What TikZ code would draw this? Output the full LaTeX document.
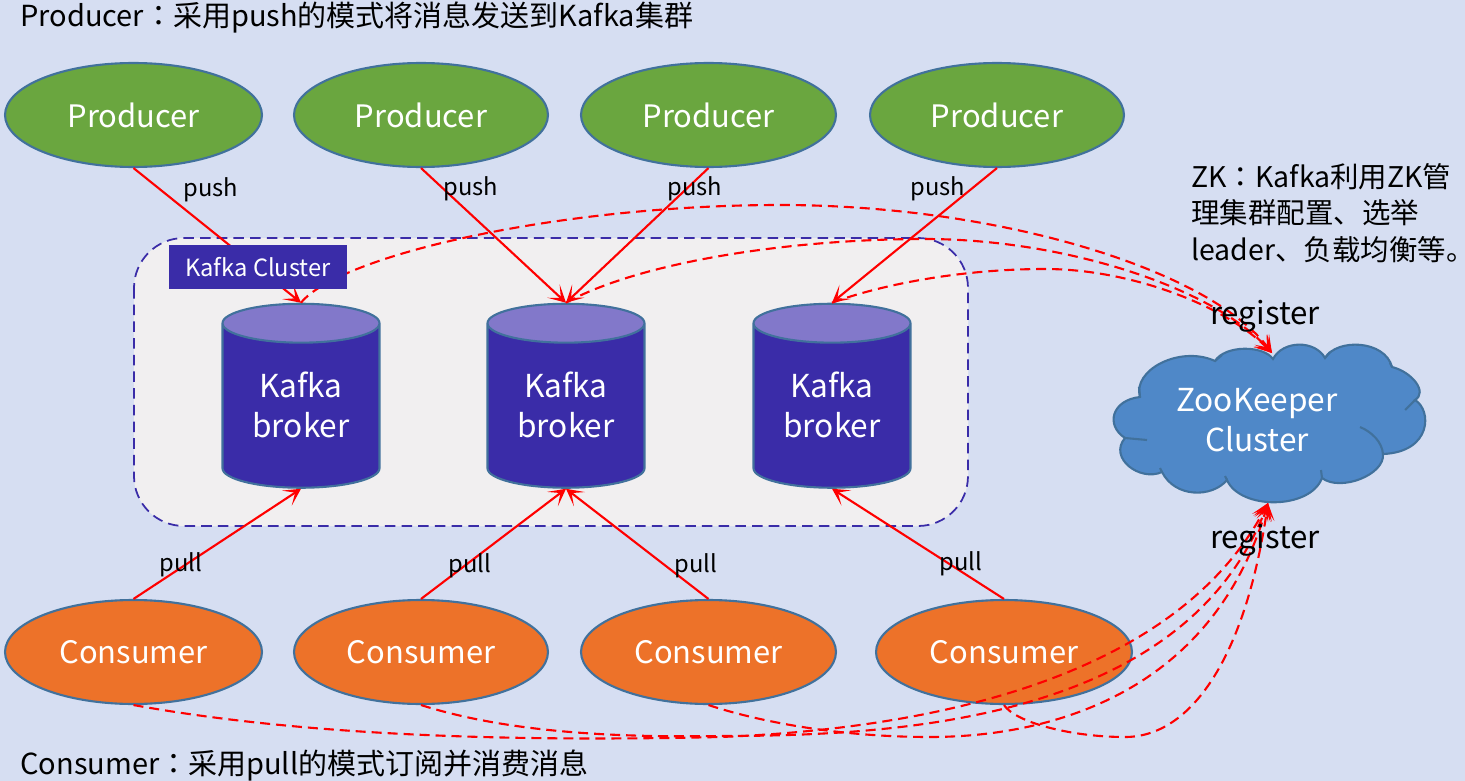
\documentclass[tikz,border=0pt]{standalone}
\usepackage{fontspec}
\setmainfont{Noto Sans CJK SC}
\newfontfamily\tcfont{Noto Sans CJK TC}
\usetikzlibrary{shapes.geometric,arrows.meta}
\def\zhcolon{{\tcfont ：}}
\definecolor{bgblue}{HTML}{D6DEF2}
\definecolor{kafkablue}{HTML}{3A2CA8}
\definecolor{kafkatop}{HTML}{8278CA}
\definecolor{edgeblue}{HTML}{41719C}
\definecolor{prodgreen}{HTML}{6AA63F}
\definecolor{consorange}{HTML}{ED7229}
\definecolor{zkblue}{HTML}{4F88C8}
\definecolor{clusterbg}{HTML}{F1EFF0}
\tikzset{
	client/.style={ellipse,draw=edgeblue,line width=1.2pt,minimum height=2.08cm,text=white,font=\fontsize{17.6}{20}\selectfont,inner sep=0pt},
	producer/.style={client,fill=prodgreen},
	consumer/.style={client,fill=consorange},
	broker/.style={cylinder,shape border rotate=90,aspect=0.4,draw=edgeblue,line width=1.2pt,cylinder uses custom fill,cylinder body fill=kafkablue,cylinder end fill=kafkatop,minimum width=3.14cm,minimum height=3.68cm,inner sep=0pt,align=center,font=\fontsize{18}{23}\selectfont},
	brokertext/.style={text=white,align=center,font=\fontsize{18}{23}\selectfont,yshift=0.02cm},
	flow/.style={draw=red,line width=1.2pt,-{Stealth[length=3.4mm,width=3.6mm,inset=2mm]}},
	reg/.style={flow,dash pattern=on 5.7pt off 3.4pt},
	tag/.style={font=\fontsize{13.5}{15}\selectfont},
	regtag/.style={font=\fontsize{17.8}{20}\selectfont},
	note/.style={font=\fontsize{16.5}{20.8}\selectfont,anchor=west,align=left,inner sep=0pt},
}
\begin{document}
\begin{tikzpicture}[x=0.02cm,y=-0.02cm]
	\useasboundingbox (0,0) rectangle (1465,781);
	\fill[bgblue] (0,0) rectangle (1465,781);
	%%%%% cluster %%%%%
	\draw[kafkablue,fill=clusterbg,line width=1pt,dash pattern=on 6pt off 3.5pt,rounded corners=1cm] (134,238) rectangle (968,526);
	%%%%% clients %%%%%
	\node[producer,minimum width=5.14cm] (prodA) at (133.5,115) {Producer};
	\node[producer,minimum width=5.08cm] (prodB) at (421,115) {Producer};
	\node[producer,minimum width=5.10cm] (prodC) at (708.5,115) {Producer};
	\node[producer,minimum width=5.08cm] (prodD) at (997,115) {Producer};
	\node[consumer,minimum width=5.14cm] (consA) at (133.5,652) {Consumer};
	\node[consumer,minimum width=5.08cm] (consB) at (421,652) {Consumer};
	\node[consumer,minimum width=5.10cm] (consC) at (708.5,652) {Consumer};
	\node[consumer,minimum width=5.12cm] (consD) at (1004,652) {Consumer};
	%%%%% brokers %%%%%
	\node[broker,label={[brokertext]center:{Kafka\\broker}}] (brokerA) at (301,406) {\phantom{Kafka}\\\phantom{broker}};
	\node[broker,label={[brokertext]center:{Kafka\\broker}}] (brokerB) at (566,406) {\phantom{Kafka}\\\phantom{broker}};
	\node[broker,label={[brokertext]center:{Kafka\\broker}}] (brokerC) at (832,406) {\phantom{Kafka}\\\phantom{broker}};
	%%%%% zookeeper %%%%%
	\draw[edgeblue,line width=1.2pt,fill=zkblue] (1215,361)
		.. controls (1225,345) and (1263,345) .. (1273,359)
		.. controls (1283,340) and (1315,340) .. (1325,358)
		.. controls (1337,338) and (1385,340) .. (1392,367)
		.. controls (1412,372) and (1428,392) .. (1415,400)
		.. controls (1432,410) and (1432,452) .. (1383,454)
		.. controls (1385,475) and (1340,492) .. (1322,478)
		.. controls (1310,510) and (1240,510) .. (1227,480)
		.. controls (1212,498) and (1175,498) .. (1162,472)
		.. controls (1140,482) and (1108,458) .. (1125,438)
		.. controls (1105,425) and (1112,400) .. (1140,397)
		.. controls (1132,370) and (1180,345) .. (1215,361) -- cycle;
	\draw[edgeblue,line width=1.2pt] (1140,397) -- (1139,387);
	\draw[edgeblue,line width=1.2pt] (1125,438) -- (1147,440);
	\draw[edgeblue,line width=1.2pt] (1162,472) -- (1160,468);
	\draw[edgeblue,line width=1.2pt] (1227,480) -- (1225,476);
	\draw[edgeblue,line width=1.2pt] (1322,478) -- (1321,470);
	\draw[edgeblue,line width=1.2pt] (1383,454) .. controls (1382,442) and (1372,432) .. (1360,427);
	\draw[edgeblue,line width=1.2pt] (1415,400) -- (1405,410);
	\draw[edgeblue,line width=1.2pt] (1392,367) -- (1390,363);
	\draw[edgeblue,line width=1.2pt] (1325,358) -- (1330,352);
	\draw[edgeblue,line width=1.2pt] (1215,361) -- (1222,355);
	\node[text=white,align=center,font=\fontsize{18}{23}\selectfont] (zk) at (1257,420) {ZooKeeper\\Cluster};
	\coordinate (zkTop) at (1272,353);
	\coordinate (zkBottom) at (1268,503);
	%%%%% push and pull %%%%%
	\draw[flow] (prodA.south) -- (brokerA.top);
	\draw[flow] (prodB.south) -- (brokerB.top);
	\draw[flow] (prodC.south) -- (brokerB.top);
	\draw[flow] (prodD.south) -- (brokerC.top);
	\draw[flow] (consA.north) -- (brokerA.bottom);
	\draw[flow] (consB.north) -- (brokerB.bottom);
	\draw[flow] (consC.north) -- (brokerB.bottom);
	\draw[flow] (consD.north) -- (brokerC.bottom);
	%%%%% register %%%%%
	\draw[reg] (brokerA.top) .. controls (340,255) and (560,205) .. (780,205) .. controls (1000,205) and (1210,270) .. (zkTop);
	\draw[reg] (brokerB.top) .. controls (640,262) and (790,239) .. (925,239) .. controls (1060,239) and (1210,285) .. (zkTop);
	\draw[reg] (brokerC.top) .. controls (880,285) and (960,269) .. (1045,269) .. controls (1130,269) and (1225,305) .. (zkTop);
	\draw[reg] (consA.south) .. controls (300,735) and (500,742) .. (720,737) .. controls (900,730) and (1170,690) .. (zkBottom);
	\draw[reg] (consB.south) .. controls (500,730) and (600,738) .. (720,736) .. controls (900,736) and (1185,720) .. (zkBottom);
	\draw[reg] (consC.south) .. controls (760,722) and (840,737) .. (930,737) .. controls (1040,737) and (1210,700) .. (zkBottom);
	\draw[reg] (consD.south) .. controls (1015,722) and (1070,737) .. (1125,737) .. controls (1190,737) and (1245,660) .. (zkBottom);
	%%%%% labels %%%%%
	\node[fill=kafkablue,text=white,minimum width=3.56cm,minimum height=0.88cm,inner sep=0pt,font=\fontsize{13.5}{15}\selectfont] (clusterTag) at (258,267) {Kafka Cluster};
	\node[tag] (pushA) at (211,190) {push};
	\node[tag] (pushB) at (471,189) {push};
	\node[tag] (pushC) at (695,189) {push};
	\node[tag] (pushD) at (938,189) {push};
	\node[tag] (pullA) at (181,565) {pull};
	\node[tag] (pullB) at (470,566) {pull};
	\node[tag] (pullC) at (696,566) {pull};
	\node[tag] (pullD) at (961,564) {pull};
	\node[regtag] (regTop) at (1265,316) {register};
	\node[regtag] (regBottom) at (1265,540) {register};
	\node[note] (noteProd) at (20,17) {Producer\zhcolon 采用push的模式将消息发送到Kafka集群};
	\node[note] (noteCons) at (20,765) {Consumer\zhcolon 采用pull的模式订阅并消费消息};
	\node[note,font=\fontsize{16.2}{20.8}\selectfont] (noteZk) at (1191,213) {ZK\zhcolon Kafka利用ZK管\\理集群配置、选举\\leader、负载均衡等。};
\end{tikzpicture}
\end{document}
